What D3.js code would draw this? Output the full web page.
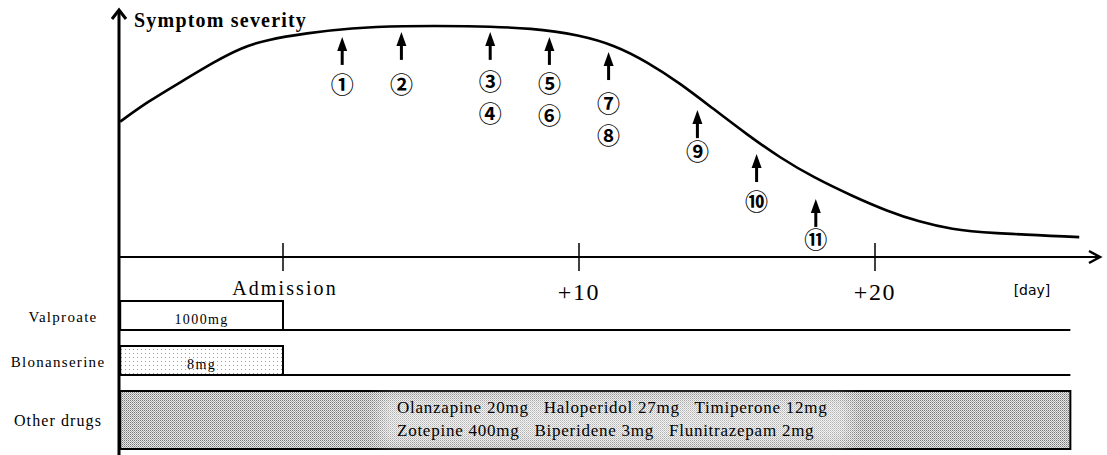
<!DOCTYPE html>
<html>
<head>
<meta charset="utf-8">
<script src="https://cdn.jsdelivr.net/npm/d3@7"></script>
<style>
  body { margin: 0; background: #fff; }
  svg { display: block; }
</style>
</head>
<body>
<svg id="chart" width="1107" height="455"></svg>
<script>
// symptom severity curve (day, level 0-10)
const curveDays   = [-5.5, -4.6, -3.4, -2.3, -1.4, -0.6, 0.8, 2.3, 4.0, 6.2, 8.5, 10.0, 11.2, 12.3,
                     13.4, 14.5, 15.7, 16.8, 17.9, 19.3, 20.4, 21.5, 22.6, 23.8, 26.9];
const curveLevels = [5.64, 6.45, 7.33, 8.15, 8.72, 9.04, 9.33, 9.54, 9.63, 9.63, 9.54, 9.25, 8.83, 8.13,
                     7.25, 6.21, 5.08, 4.13, 3.33, 2.5, 1.92, 1.46, 1.15, 1.0, 0.83];

// numbered event arrows
const arrowDays   = [2, 4, 7, 9, 11, 14, 16, 18];
const arrowTips   = [9.17, 9.38, 9.38, 9.17, 8.54, 6.12, 4.29, 2.42];
const arrowLabelY = [7.25, 7.25, 7.38, 7.29, 6.46, 4.46, 2.38, 0.79];
const arrowLabels = [["①"], ["②"], ["③", "④"], ["⑤", "⑥"], ["⑦", "⑧"], ["⑨"], ["⑩"], ["⑪"]];

const tickDays   = [0, 10, 20];
const tickLabels = ["Admission", "+10", "+20"];

// medication rows
const drugNames  = ["Valproate", "Blonanserine", "Other drugs"];
const drugStart  = [-5.5, -5.5, -5.5];
const drugEnd    = [0, 0, 26.6];
const drugDoses  = [["1000mg"], ["8mg"],
  ["Olanzapine 20mg   Haloperidol 27mg   Timiperone 12mg",
   "Zotepine 400mg   Biperidene 3mg   Flunitrazepam 2mg"]];
const rowLineEnd = 26.6;

const serif = "'Liberation Serif', 'Times New Roman', Times, serif";
const svg = d3.select("#chart");
const x = d3.scaleLinear().domain([0, 20]).range([283, 875]);
const y = d3.scaleLinear().domain([0, 10]).range([257, 17]);
const axisX = 119, axisY = 257;

// patterns
const defs = svg.append("defs");
const p1 = defs.append("pattern").attr("id", "sparse").attr("width", 4).attr("height", 4)
  .attr("patternUnits", "userSpaceOnUse");
p1.append("rect").attr("width", 4).attr("height", 4).attr("fill", "#fff");
p1.append("rect").attr("x", 1).attr("y", 1).attr("width", 1).attr("height", 1).attr("fill", "#999");
const p2 = defs.append("pattern").attr("id", "dense").attr("width", 2).attr("height", 2)
  .attr("patternUnits", "userSpaceOnUse");
p2.append("rect").attr("width", 2).attr("height", 2).attr("fill", "#e8e8e8");
p2.append("rect").attr("width", 1).attr("height", 1).attr("fill", "#777");
p2.append("rect").attr("x", 1).attr("y", 1).attr("width", 1).attr("height", 1).attr("fill", "#a8a8a8");
defs.append("filter").attr("id", "blur").append("feGaussianBlur").attr("stdDeviation", 8);

// axes
svg.append("line").attr("x1", axisX).attr("x2", axisX).attr("y1", 455).attr("y2", 10)
  .attr("stroke", "#000").attr("stroke-width", 3);
svg.append("path").attr("d", `M${axisX - 7},${19} L${axisX},${10} L${axisX + 7},${19}`)
  .attr("fill", "none").attr("stroke", "#000").attr("stroke-width", 3);
svg.append("line").attr("x1", axisX).attr("x2", 1099).attr("y1", axisY).attr("y2", axisY)
  .attr("stroke", "#000").attr("stroke-width", 2);
svg.append("path").attr("d", `M1089,251 L1100,${axisY} L1089,263`)
  .attr("fill", "none").attr("stroke", "#000").attr("stroke-width", 2.5);

svg.append("text").attr("font-family", serif).attr("x", 134).attr("y", 27)
  .attr("font-size", 20).attr("font-weight", "bold").attr("letter-spacing", 1.2)
  .text("Symptom severity");

tickDays.forEach((d, i) => {
  svg.append("line").attr("x1", x(d)).attr("x2", x(d)).attr("y1", 243).attr("y2", 271)
    .attr("stroke", "#000").attr("stroke-width", 1.5);
  svg.append("text").attr("font-family", serif).attr("x", x(d) + (i === 0 ? 2 : 0)).attr("y", i === 0 ? 295 : 300)
    .attr("text-anchor", "middle").attr("font-size", i === 0 ? 20 : 24)
    .attr("letter-spacing", i === 0 ? 2.1 : 1.6).text(tickLabels[i]);
});
svg.append("text").attr("x", 1032).attr("y", 295).attr("text-anchor", "middle")
  .attr("font-family", "DejaVu Sans, sans-serif").attr("font-size", 14).text("[day]");

// curve
const line = d3.line().x(d => x(d[0])).y(d => y(d[1])).curve(d3.curveBasis);
svg.append("path").datum(curveDays.map((d, i) => [d, curveLevels[i]]))
  .attr("d", line).attr("fill", "none").attr("stroke", "#000").attr("stroke-width", 2.6);

// arrows
arrowDays.forEach((d, i) => {
  const cx = x(d), ty = y(arrowTips[i]);
  svg.append("line").attr("x1", cx).attr("x2", cx).attr("y1", ty + 10).attr("y2", ty + 28)
    .attr("stroke", "#000").attr("stroke-width", 3);
  svg.append("path").attr("d", `M${cx},${ty} L${cx - 5},${ty + 14} L${cx + 5},${ty + 14} Z`)
    .attr("fill", "#000");
  arrowLabels[i].forEach((lab, j) => {
    svg.append("text").attr("x", cx).attr("y", y(arrowLabelY[i]) + j * 32)
      .attr("text-anchor", "middle").attr("dominant-baseline", "central")
      .attr("font-family", "Noto Sans CJK JP, sans-serif").attr("font-weight", 700)
      .attr("font-size", 23).text(lab);
  });
});

// medication rows
const rowTop = [301, 346, 391], rowBot = [330, 375, 449];
const fills = ["#fff", "url(#sparse)", "url(#dense)"];
drugNames.forEach((name, i) => {
  const g = svg.append("g");
  g.append("rect").attr("x", x(drugStart[i])).attr("y", rowTop[i])
    .attr("width", x(drugEnd[i]) - x(drugStart[i])).attr("height", rowBot[i] - rowTop[i])
    .attr("fill", fills[i]).attr("stroke", "#000").attr("stroke-width", 2);
  if (i < 2) {
    g.append("line").attr("x1", axisX).attr("x2", x(rowLineEnd)).attr("y1", rowBot[i]).attr("y2", rowBot[i])
      .attr("stroke", "#000").attr("stroke-width", 2);
  }
  const mid = (x(drugStart[i]) + x(drugEnd[i])) / 2;
  const doses = drugDoses[i];
  if (doses.length > 1) {
    g.append("rect").attr("x", 380).attr("y", rowTop[i] + 4).attr("width", 470).attr("height", rowBot[i] - rowTop[i] - 8)
      .attr("fill", "#fff").attr("opacity", 0.45).attr("filter", "url(#blur)");
    doses.forEach((t, j) => {
      g.append("text").attr("font-family", serif).attr("x", 397).attr("y", 413 + j * 23)
        .attr("font-size", 17).attr("letter-spacing", 0.75)
        .style("white-space", "pre").text(t);
    });
  } else {
    g.append("text").attr("font-family", serif).attr("x", mid).attr("y", rowBot[i] - 6)
      .attr("text-anchor", "middle").attr("font-size", 14).attr("letter-spacing", 1.4).text(doses[0]);
  }
  g.append("text").attr("font-family", serif).attr("x", i === 0 ? 63 : 58).attr("y", (rowTop[i] + rowBot[i]) / 2 + 6)
    .attr("text-anchor", "middle").attr("font-size", i === 2 ? 16 : 15)
    .attr("letter-spacing", i === 2 ? 1.1 : 1.3).text(name);
});
</script>
</body>
</html>
